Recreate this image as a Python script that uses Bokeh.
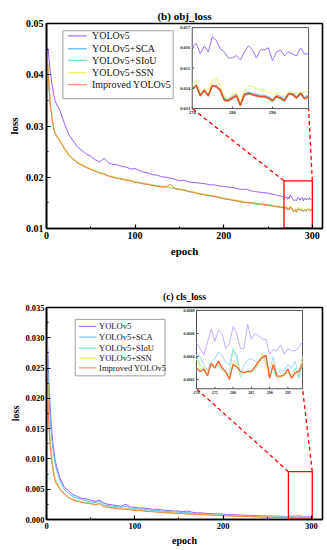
import math
from bokeh.plotting import figure
from bokeh.layouts import column
from bokeh.models import Range1d, FixedTicker, PrintfTickFormatter
from bokeh.core.properties import value
from bokeh.embed import file_html
from bokeh.resources import INLINE

SERIF = "Liberation Serif"

EPOCHS = list(range(0, 10)) + list(range(10, 270, 5)) + list(range(270, 300))

NAMES = ["YOLOv5", "YOLOv5+SCA", "YOLOv5+SIoU", "YOLOv5+SSN", "Improved YOLOv5"]

# ---------------- (b) obj_loss ----------------
OBJ_YOLOV5 = [
    0.0440, 0.0452, 0.0448, 0.0428, 0.0410, 0.0398, 0.0383, 0.0374, 0.0362, 0.0355,
    0.0347, 0.0331, 0.0306, 0.0284, 0.0271, 0.0259, 0.0252, 0.0245, 0.0241, 0.0234,
    0.0230, 0.0237, 0.0228, 0.0225, 0.0224, 0.0221, 0.0220, 0.0216, 0.0217, 0.0213,
    0.0210, 0.0208, 0.0205, 0.0204, 0.0201, 0.0200, 0.0198, 0.0196, 0.0193, 0.0194,
    0.0191, 0.0190, 0.0189, 0.0188, 0.0187, 0.0185, 0.0185, 0.0183, 0.0182, 0.0181,
    0.0180, 0.0178, 0.0176, 0.0177, 0.0174, 0.0172, 0.0171, 0.0170, 0.0169, 0.0167,
    0.0165, 0.0163,
    0.01603, 0.01622, 0.01570, 0.01610, 0.01580, 0.01656, 0.01636, 0.01595, 0.01580, 0.01550,
    0.01550, 0.01562, 0.01540, 0.01580, 0.01610, 0.01590, 0.01550, 0.01590, 0.01590, 0.01600,
    0.01537, 0.01580, 0.01590, 0.01560, 0.01580, 0.01570, 0.01560, 0.01600, 0.01570, 0.01570,
]
OBJ_SCA = [
    0.0442, 0.0430, 0.0401, 0.0374, 0.0349, 0.0333, 0.0320, 0.0308, 0.0298, 0.0291,
    0.0285, 0.0272, 0.0258, 0.0245, 0.0236, 0.0229, 0.0224, 0.0220, 0.0216, 0.0212,
    0.0209, 0.0207, 0.0203, 0.0201, 0.0199, 0.0197, 0.0195, 0.0193, 0.0191, 0.0190,
    0.0188, 0.0186, 0.0185, 0.0183, 0.0182, 0.0181, 0.0180, 0.0178, 0.0177, 0.0175,
    0.0173, 0.0171, 0.0169, 0.0167, 0.0166, 0.0164, 0.0163, 0.0161, 0.0159, 0.0157,
    0.0156, 0.0154, 0.0153, 0.0151, 0.0150, 0.0149, 0.0148, 0.0147, 0.0146, 0.0145,
    0.0143, 0.0142,
    0.01400, 0.01418, 0.01368, 0.01392, 0.01368, 0.01416, 0.01412, 0.01393, 0.01350, 0.01345,
    0.01360, 0.01372, 0.01330, 0.01372, 0.01382, 0.01376, 0.01370, 0.01366, 0.01365, 0.01360,
    0.01345, 0.01368, 0.01360, 0.01350, 0.01378, 0.01376, 0.01360, 0.01382, 0.01356, 0.01368,
]
OBJ_SIOU = [
    0.0441, 0.0429, 0.0399, 0.0373, 0.0347, 0.0332, 0.0319, 0.0307, 0.0297, 0.0290,
    0.0284, 0.0272, 0.0257, 0.0244, 0.0235, 0.0228, 0.0224, 0.0219, 0.0216, 0.0212,
    0.0208, 0.0206, 0.0203, 0.0200, 0.0198, 0.0196, 0.0195, 0.0193, 0.0191, 0.0189,
    0.0187, 0.0186, 0.0184, 0.0183, 0.0181, 0.0181, 0.0179, 0.0178, 0.0176, 0.0175,
    0.0172, 0.0171, 0.0169, 0.0167, 0.0165, 0.0164, 0.0162, 0.0160, 0.0158, 0.0157,
    0.0155, 0.0153, 0.0152, 0.0151, 0.0150, 0.0148, 0.0147, 0.0146, 0.0145, 0.0144,
    0.0142, 0.0141,
    0.01392, 0.01410, 0.01360, 0.01385, 0.01360, 0.01410, 0.01405, 0.01385, 0.01338, 0.01335,
    0.01348, 0.01360, 0.01320, 0.01362, 0.01372, 0.01366, 0.01360, 0.01356, 0.01356, 0.01348,
    0.01332, 0.01356, 0.01348, 0.01335, 0.01380, 0.01372, 0.01350, 0.01380, 0.01346, 0.01362,
]
OBJ_SSN = [
    0.0443, 0.0431, 0.0402, 0.0375, 0.0350, 0.0334, 0.0321, 0.0309, 0.0299, 0.0292,
    0.0286, 0.0273, 0.0258, 0.0246, 0.0237, 0.0230, 0.0225, 0.0220, 0.0217, 0.0213,
    0.0210, 0.0207, 0.0204, 0.0202, 0.0199, 0.0198, 0.0196, 0.0194, 0.0192, 0.0190,
    0.0189, 0.0187, 0.0185, 0.0184, 0.0183, 0.0182, 0.0180, 0.0179, 0.0177, 0.0176,
    0.0174, 0.0172, 0.0170, 0.0168, 0.0167, 0.0165, 0.0163, 0.0162, 0.0160, 0.0158,
    0.0157, 0.0155, 0.0154, 0.0152, 0.0151, 0.0150, 0.0149, 0.0148, 0.0147, 0.0145,
    0.0144, 0.0143,
    0.0142, 0.0144, 0.0137, 0.0140, 0.0139, 0.0144, 0.0145, 0.0141, 0.0136, 0.0135,
    0.0137, 0.0138, 0.0133, 0.0139, 0.0141, 0.0141, 0.0140, 0.0139, 0.0139, 0.0138,
    0.0137, 0.0138, 0.0137, 0.0136, 0.0138, 0.0138, 0.0137, 0.0138, 0.0138, 0.0139,
]
OBJ_IMPROVED = [
    0.0440, 0.0428, 0.0398, 0.0372, 0.0346, 0.0331, 0.0318, 0.0306, 0.0296, 0.0289,
    0.0284, 0.0271, 0.0256, 0.0244, 0.0235, 0.0228, 0.0223, 0.0219, 0.0215, 0.0212,
    0.0208, 0.0206, 0.0202, 0.0200, 0.0198, 0.0196, 0.0194, 0.0193, 0.0190, 0.0189,
    0.0187, 0.0186, 0.0184, 0.0183, 0.0181, 0.0182, 0.0186, 0.0178, 0.0176, 0.0175,
    0.0172, 0.0171, 0.0168, 0.0167, 0.0165, 0.0164, 0.0162, 0.0161, 0.0158, 0.0157,
    0.0155, 0.0154, 0.0152, 0.0151, 0.0150, 0.0149, 0.0148, 0.0147, 0.0146, 0.0144,
    0.0143, 0.0141,
    0.01397, 0.01414, 0.01364, 0.01390, 0.01364, 0.01414, 0.01410, 0.01390, 0.01343, 0.01340,
    0.01352, 0.01364, 0.01315, 0.01369, 0.01376, 0.01369, 0.01364, 0.01360, 0.01360, 0.01352,
    0.01340, 0.01360, 0.01352, 0.01340, 0.01372, 0.01370, 0.01352, 0.01376, 0.01348, 0.01360,
]

# ---------------- (c) cls_loss ----------------
CLS_YOLOV5 = [
    0.0350, 0.0300, 0.0252, 0.0216, 0.0190, 0.0166, 0.0146, 0.0129, 0.0117, 0.0106,
    0.0096, 0.0069, 0.0054, 0.0047, 0.0041, 0.0038, 0.0035, 0.0034, 0.0032, 0.0030,
    0.0032, 0.0027, 0.0025, 0.0024, 0.0023, 0.0022, 0.0025, 0.0021, 0.0020, 0.0019,
    0.0019, 0.0018, 0.0017, 0.0017, 0.0016, 0.0015, 0.0015, 0.0014, 0.0014, 0.0013,
    0.0014, 0.0012, 0.0011, 0.0011, 0.00102, 0.00098, 0.00095, 0.00090, 0.00088, 0.00084,
    0.00080, 0.00078, 0.00074, 0.00070, 0.00068, 0.00065, 0.00062, 0.00060, 0.00059, 0.00057,
    0.00055, 0.00053,
    0.000514, 0.00047, 0.000414, 0.00052, 0.00064, 0.00053, 0.00063, 0.00060, 0.00047, 0.00051,
    0.00066, 0.00060, 0.00047, 0.00047, 0.00068, 0.00055, 0.00060, 0.00058, 0.00055, 0.00055,
    0.00042, 0.00046, 0.00045, 0.00050, 0.00042, 0.00047, 0.00045, 0.00045, 0.00048, 0.00053,
]
CLS_SCA = [
    0.0345, 0.0285, 0.0235, 0.0195, 0.0170, 0.0150, 0.0134, 0.0120, 0.0110, 0.0100,
    0.0090, 0.0065, 0.0050, 0.0043, 0.0038, 0.0035, 0.0033, 0.0031, 0.0029, 0.0028,
    0.0030, 0.0024, 0.0023, 0.0022, 0.0021, 0.0020, 0.0022, 0.0019, 0.0018, 0.0017,
    0.0017, 0.0016, 0.0015, 0.0015, 0.0014, 0.0013, 0.0013, 0.0012, 0.0012, 0.0011,
    0.0012, 0.0010, 0.00095, 0.00092, 0.00088, 0.00084, 0.00080, 0.00076, 0.00073, 0.00070,
    0.00066, 0.00063, 0.00060, 0.00057, 0.00055, 0.00052, 0.00050, 0.00048, 0.00046, 0.00044,
    0.00042, 0.00040,
    0.00042, 0.00040, 0.00033, 0.00028, 0.00035, 0.00038, 0.00044, 0.00041, 0.00035, 0.00033,
    0.00046, 0.00042, 0.00025, 0.00033, 0.00037, 0.00038, 0.00036, 0.00035, 0.00042, 0.00037,
    0.00028, 0.00040, 0.00025, 0.00028, 0.00028, 0.00033, 0.00030, 0.00036, 0.00022, 0.00036,
]
CLS_SIOU = [
    0.0348, 0.0255, 0.0195, 0.0158, 0.0135, 0.0118, 0.0102, 0.0090, 0.0080, 0.0072,
    0.0065, 0.0052, 0.0043, 0.0037, 0.0033, 0.0031, 0.0029, 0.0028, 0.0027, 0.0025,
    0.0027, 0.0022, 0.0021, 0.0020, 0.0019, 0.0018, 0.0018, 0.0017, 0.0016, 0.0015,
    0.0015, 0.0014, 0.0013, 0.0013, 0.0012, 0.0012, 0.0011, 0.0011, 0.0010, 0.0010,
    0.00096, 0.00092, 0.00089, 0.00086, 0.00082, 0.00078, 0.00074, 0.00071, 0.00068, 0.00064,
    0.00061, 0.00058, 0.00055, 0.00052, 0.00050, 0.00048, 0.00046, 0.00043, 0.00041, 0.00040,
    0.00038, 0.00036,
    0.00041, 0.00032, 0.00030, 0.00025, 0.00033, 0.00030, 0.00032, 0.00028, 0.00026, 0.00024,
    0.00047, 0.00038, 0.00022, 0.00026, 0.00028, 0.00027, 0.00028, 0.00033, 0.00041, 0.00035,
    0.00025, 0.00030, 0.00021, 0.00022, 0.00024, 0.00026, 0.00022, 0.00030, 0.00021, 0.00033,
]
CLS_SSN = [
    0.0349, 0.0250, 0.0190, 0.0152, 0.0130, 0.0114, 0.0099, 0.0088, 0.0078, 0.0070,
    0.0064, 0.0051, 0.0042, 0.0037, 0.0033, 0.0030, 0.0029, 0.0027, 0.0026, 0.0025,
    0.0026, 0.0022, 0.0020, 0.0019, 0.0019, 0.0018, 0.0018, 0.0016, 0.0016, 0.0015,
    0.0014, 0.0014, 0.0013, 0.0013, 0.0012, 0.0011, 0.0011, 0.0011, 0.0010, 0.00098,
    0.00094, 0.00090, 0.00087, 0.00084, 0.00080, 0.00077, 0.00073, 0.00070, 0.00067, 0.00063,
    0.00060, 0.00057, 0.00054, 0.00051, 0.00049, 0.00047, 0.00045, 0.00043, 0.00041, 0.00040,
    0.00038, 0.00036,
    0.00038, 0.00029, 0.00031, 0.00026, 0.00033, 0.00033, 0.00035, 0.00031, 0.00025, 0.00022,
    0.00035, 0.00034, 0.00024, 0.00027, 0.00026, 0.00027, 0.00030, 0.00034, 0.00043, 0.00032,
    0.00022, 0.00035, 0.00022, 0.00022, 0.00023, 0.00028, 0.00024, 0.00028, 0.00026, 0.00040,
]
CLS_IMPROVED = [
    0.0350, 0.0240, 0.0180, 0.0145, 0.0125, 0.0110, 0.0095, 0.0085, 0.0076, 0.0068,
    0.0062, 0.0050, 0.0042, 0.0036, 0.0032, 0.0030, 0.0028, 0.0027, 0.0026, 0.0024,
    0.0026, 0.0021, 0.0020, 0.0019, 0.0018, 0.0017, 0.0017, 0.0016, 0.0015, 0.0015,
    0.0014, 0.0013, 0.0013, 0.0012, 0.0012, 0.0011, 0.0011, 0.0010, 0.0010, 0.00095,
    0.00090, 0.00088, 0.00085, 0.00080, 0.00078, 0.00075, 0.00070, 0.00068, 0.00065, 0.00060,
    0.00058, 0.00055, 0.00052, 0.00050, 0.00047, 0.00045, 0.00043, 0.00040, 0.00039, 0.00037,
    0.00035, 0.00033,
    0.00030, 0.00027, 0.00029, 0.00023, 0.00034, 0.00030, 0.00036, 0.00030, 0.00027, 0.00020,
    0.00033, 0.00031, 0.00027, 0.00026, 0.00027, 0.00027, 0.00031, 0.00036, 0.00039, 0.00041,
    0.00021, 0.00033, 0.00023, 0.00023, 0.00024, 0.00029, 0.00021, 0.00026, 0.00027, 0.00034,
]

OBJ_SERIES = [OBJ_YOLOV5, OBJ_SCA, OBJ_SIOU, OBJ_SSN, OBJ_IMPROVED]
CLS_SERIES = [CLS_YOLOV5, CLS_SCA, CLS_SIOU, CLS_SSN, CLS_IMPROVED]

COLORS = ["#9A5CFF", "#5CB8FF", "#4FE3A0", "#EDED55", "#FF7A40"]
LEGEND_COLORS = ["#A478FF", "#7CC6FF", "#6CEBB6", "#F4F46A", "#FF9A70"]
INSET1_COLORS = ["#A070FF", "#5CC0FF", "#45E3B0", "#F2F266", "#EE4A1E"]
INSET2_COLORS = ["#C6ACFF", "#A2D4FF", "#90EFC6", "#F2F27A", "#F2622E"]

X_TICKS = [0, 100, 200, 300]
X_MINOR = [50, 150, 250]
Y1_TICKS = [0.01, 0.02, 0.03, 0.04, 0.05]
Y1_MINOR = [0.015, 0.025, 0.035, 0.045]
Y2_TICKS = [0.0, 0.005, 0.010, 0.015, 0.020, 0.025, 0.030, 0.035]
Y2_MINOR = [0.0025, 0.0075, 0.0125, 0.0175, 0.0225, 0.0275, 0.0325]

IN1_XT = [270, 280, 290]
IN1_YT = [0.013, 0.014, 0.015, 0.016, 0.017]
IN2_XT = [270, 275, 280, 285, 290, 295]
IN2_YT = [0.0002, 0.0004, 0.0006, 0.0008]


def style_fig(p, yticks, yminor, yfmt, tick_fs, lab_fs, title_fs, standoff, offset):
    p.title.align = "center"
    p.title.text_font = SERIF
    p.title.text_font_style = "bold"
    p.title.text_font_size = title_fs
    p.title.text_color = "black"
    p.title.standoff = standoff
    p.title.offset = offset
    p.grid.visible = False
    p.outline_line_color = "black"
    p.outline_line_width = 1.6
    p.outline_line_alpha = 1
    p.xaxis.ticker = FixedTicker(ticks=X_TICKS, minor_ticks=X_MINOR)
    p.yaxis.ticker = FixedTicker(ticks=yticks, minor_ticks=yminor)
    p.yaxis.formatter = PrintfTickFormatter(format=yfmt)
    for ax in (p.xaxis, p.yaxis):
        ax.axis_line_width = 1.6
        ax.major_tick_in = 4
        ax.major_tick_out = 0
        ax.minor_tick_in = 2
        ax.minor_tick_out = 0
        ax.major_tick_line_width = 1.2
        ax.minor_tick_line_width = 1
        ax.major_label_text_font = SERIF
        ax.major_label_text_font_style = "bold"
        ax.major_label_text_font_size = tick_fs
        ax.major_label_text_color = "black"
        ax.axis_label_text_font = SERIF
        ax.axis_label_text_font_style = "bold"
        ax.axis_label_text_font_size = lab_fs
        ax.axis_label_text_color = "black"
        ax.major_label_standoff = 3
        ax.axis_label_standoff = 3
    p.xaxis.axis_label = "epoch"
    p.yaxis.axis_label = "loss"


def add_legend(p, box_x, box_y, rows, line_x, text_x, fs):
    # legend drawn as a small panel placed inside the plot frame
    sub = p.subplot(x_source=Range1d(0, 1), y_source=Range1d(0, 1),
                    x_target=Range1d(*box_x), y_target=Range1d(*box_y))
    sub.quad(left=[0], right=[1], bottom=[0], top=[1], fill_color="white",
             line_color="#A0A0A0", line_width=1)
    n = len(NAMES)
    sub.segment(x0=[line_x[0]] * n, y0=rows, x1=[line_x[1]] * n, y1=rows,
                line_color=LEGEND_COLORS, line_width=1.3)
    sub.text(x=[text_x] * n, y=rows, text=NAMES, text_align="left",
             text_baseline="middle", text_font=value(SERIF), text_font_size=fs,
             text_color="#111111")


def add_inset(p, series, colors, widths, xs_rng, ys_rng, xt_rng, yt_rng, xt, xlabels, yt, ylabels, fs):
    sub = p.subplot(x_source=Range1d(*xs_rng), y_source=Range1d(*ys_rng),
                    x_target=Range1d(*xt_rng), y_target=Range1d(*yt_rng))
    sub.quad(left=[xs_rng[0]], right=[xs_rng[1]], bottom=[ys_rng[0]], top=[ys_rng[1]],
             fill_color="white", line_color="#555555", line_width=1)
    idx = [i for i, e in enumerate(EPOCHS) if e >= xs_rng[0]]
    ex = [EPOCHS[i] for i in idx]
    for ys, c, w in zip(series, colors, widths):
        sub.line(ex, [ys[i] for i in idx], line_color=c, line_width=w)
    sub.ray(x=xt, y=[ys_rng[0]] * len(xt), length=2, angle=math.pi / 2,
            length_units="screen", line_color="#555555", line_width=1)
    sub.ray(x=[xs_rng[0]] * len(yt), y=yt, length=2, angle=0,
            length_units="screen", line_color="#555555", line_width=1)
    sub.text(x=xt, y=[ys_rng[0]] * len(xt), text=xlabels, text_align="center",
             text_baseline="top", y_offset=2, text_font=value(SERIF),
             text_font_style="bold", text_font_size=fs, text_color="#222222")
    sub.text(x=[xs_rng[0]] * len(yt), y=yt, text=ylabels, text_align="right",
             text_baseline="middle", x_offset=-2, text_font=value(SERIF),
             text_font_style="bold", text_font_size=fs, text_color="#222222")


# ---------- figure 1 ----------
p1 = figure(width=325, height=262, x_range=Range1d(0, 311.5), y_range=Range1d(0.01, 0.05),
            output_backend="svg", toolbar_location=None, title="(b) obj_loss",
            min_border_top=23, min_border_bottom=34, min_border_left=46, min_border_right=3,
            background_fill_color="white", border_fill_color="white")
style_fig(p1, Y1_TICKS, Y1_MINOR, "%.2f", "10px", "11px", "11px", 3, 14)
for ys, c in zip(OBJ_SERIES, COLORS):
    p1.line(EPOCHS, ys, line_color=c, line_width=1)

p1.quad(left=[268], right=[300], bottom=[0.0101], top=[0.0193], fill_alpha=0,
        line_color="red", line_width=1.3)
p1.segment(x0=[268, 300], y0=[0.0193, 0.0193], x1=[164.5, 295.8], y1=[0.0334, 0.0334],
           line_color="red", line_width=1.3, line_dash="4 3")
add_inset(p1, OBJ_SERIES, INSET1_COLORS, [1, 1, 1, 1, 1.6],
          (270, 299), (0.013, 0.017), (164.5, 295.8), (0.0334, 0.0492),
          IN1_XT, ["270", "280", "290"], IN1_YT,
          ["0.013", "0.014", "0.015", "0.016", "0.017"], "4.5px")
add_legend(p1, (18.5, 143.0), (0.03533, 0.04858),
           [0.926, 0.735, 0.565, 0.382, 0.206], (0.045, 0.218), 0.264, "10px")

# ---------- figure 2 ----------
p2 = figure(width=325, height=286, x_range=Range1d(0, 312.6), y_range=Range1d(0, 0.035),
            output_backend="svg", toolbar_location=None, title="(c) cls_loss",
            min_border_top=45, min_border_bottom=27, min_border_left=35, min_border_right=1,
            background_fill_color="white", border_fill_color="white")
style_fig(p2, Y2_TICKS, Y2_MINOR, "%.3f", "8.5px", "10px", "9.5px", 11, 0)
p2.yaxis.axis_label_standoff = 1
p2.yaxis.major_label_standoff = 2
for ys, c in zip(CLS_SERIES, COLORS):
    p2.line(EPOCHS, ys, line_color=c, line_width=1)

p2.quad(left=[274], right=[301], bottom=[0.00005], top=[0.0079], fill_alpha=0,
        line_color="red", line_width=1.3)
p2.segment(x0=[274, 301], y0=[0.0079, 0.0079], x1=[169.9, 290], y1=[0.02159, 0.02159],
           line_color="red", line_width=1.3, line_dash="4 3")
add_inset(p2, CLS_SERIES, INSET2_COLORS, [1, 1, 1, 1, 1.3],
          (270, 299), (0.00012, 0.0008), (169.9, 290), (0.02159, 0.03451),
          IN2_XT, ["270", "275", "280", "285", "290", "295"], IN2_YT,
          ["0.0002", "0.0004", "0.0006", "0.0008"], "4px")
add_legend(p2, (32.5, 134.2), (0.02372, 0.03304),
           [0.877, 0.684, 0.491, 0.316, 0.14], (0.043, 0.234), 0.266, "8.5px")

layout = column(p1, p2, spacing=0)
open("out.html", "w").write(file_html(layout, INLINE))
